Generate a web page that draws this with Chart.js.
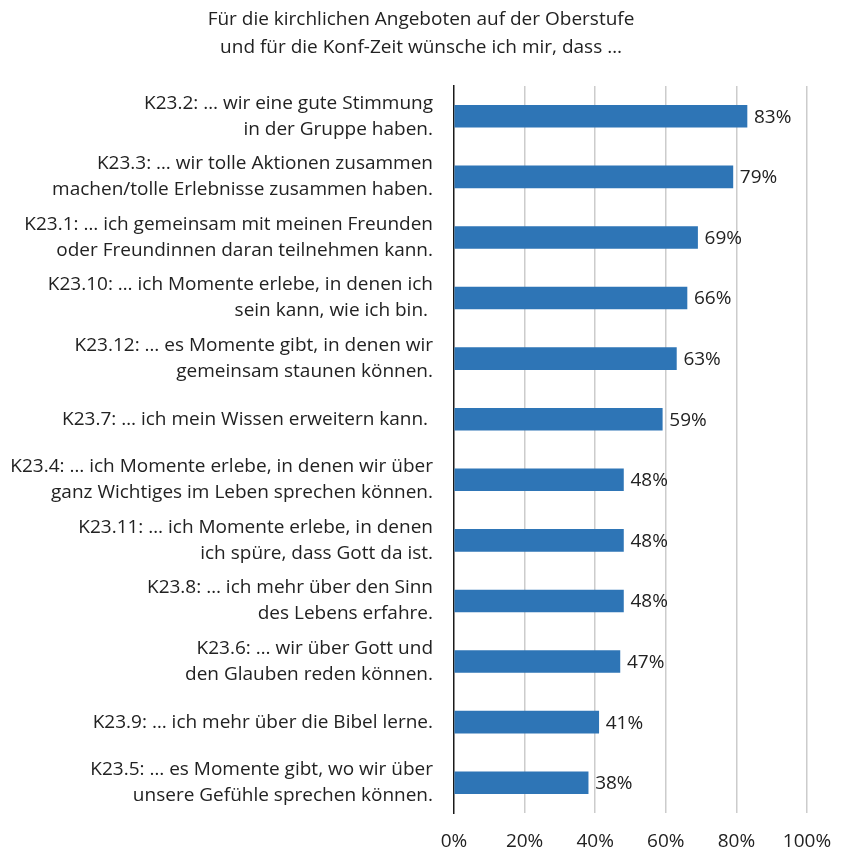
<!DOCTYPE html>
<html lang="de">
<head>
<meta charset="utf-8">
<title>Kirchliche Angebote – Wünsche</title>
<script src="https://cdn.jsdelivr.net/npm/chart.js@4.4.1/dist/chart.umd.min.js"></script>
<style>
  html, body { margin: 0; padding: 0; background: #fff; }
  #wrap { width: 842px; height: 851px; }
</style>
</head>
<body>
<div id="wrap"><canvas id="chart" width="842" height="851"></canvas></div>
<script>
const titleLines = [
  'Für die kirchlichen Angeboten auf der Oberstufe',
  'und für die Konf-Zeit wünsche ich mir, dass …'
];

const categories = [
  ['K23.2: … wir eine gute Stimmung', 'in der Gruppe haben.'],
  ['K23.3: … wir tolle Aktionen zusammen', 'machen/tolle Erlebnisse zusammen haben.'],
  ['K23.1: … ich gemeinsam mit meinen Freunden', 'oder Freundinnen daran teilnehmen kann.'],
  ['K23.10: … ich Momente erlebe, in denen ich', 'sein kann, wie ich bin. '],
  ['K23.12: … es Momente gibt, in denen wir', 'gemeinsam staunen können.'],
  'K23.7: … ich mein Wissen erweitern kann. ',
  ['K23.4: … ich Momente erlebe, in denen wir über', 'ganz Wichtiges im Leben sprechen können.'],
  ['K23.11: … ich Momente erlebe, in denen', 'ich spüre, dass Gott da ist.'],
  ['K23.8: … ich mehr über den Sinn', 'des Lebens erfahre.'],
  ['K23.6: … wir über Gott und', 'den Glauben reden können.'],
  'K23.9: … ich mehr über die Bibel lerne.',
  ['K23.5: … es Momente gibt, wo wir über', 'unsere Gefühle sprechen können.']
];

const values = [83, 79, 69, 66, 63, 59, 48, 48, 48, 47, 41, 38];

const xTicks = [0, 20, 40, 60, 80, 100];

const FONT = '"Open Sans", "Noto Sans", sans-serif';
const TEXT = '#222222';

// value labels at the end of each bar
const barLabels = {
  id: 'barLabels',
  afterDatasetsDraw(chart) {
    const ctx = chart.ctx;
    const meta = chart.getDatasetMeta(0);
    ctx.save();
    ctx.font = '19px ' + FONT;
    ctx.fillStyle = TEXT;
    ctx.textAlign = 'left';
    ctx.textBaseline = 'middle';
    meta.data.forEach((bar, i) => {
      ctx.fillText(values[i] + '%', bar.x + 7, bar.y + 1);
    });
    ctx.restore();
  }
};

new Chart(document.getElementById('chart'), {
  type: 'bar',
  data: {
    labels: categories,
    datasets: [{
      data: values,
      backgroundColor: '#2E75B6',
      barThickness: 22
    }]
  },
  options: {
    indexAxis: 'y',
    responsive: false,
    animation: false,
    layout: { padding: 0 },
    plugins: {
      legend: { display: false },
      tooltip: { enabled: false },
      title: {
        display: true,
        text: titleLines,
        color: TEXT,
        font: { family: FONT, size: 19, weight: 'normal', lineHeight: '28px' },
        padding: { top: 6, bottom: 24 }
      }
    },
    scales: {
      x: {
        min: 0,
        max: 100,
        afterBuildTicks: axis => { axis.ticks = xTicks.map(v => ({ value: v })); },
        afterFit: axis => {
          // fixed room below and right of the plot
          axis.height = 38;
          axis.paddingLeft = 0;
          axis.paddingRight = 35;
        },
        ticks: {
          color: TEXT,
          padding: 17,
          font: { family: FONT, size: 19 },
          callback: v => v + '%'
        },
        grid: {
          color: ctx => ctx.tick && ctx.tick.value === 0 ? 'rgba(0,0,0,0)' : '#cccccc',
          lineWidth: 1.5,
          drawTicks: false
        },
        border: { display: false }
      },
      y: {
        afterFit: axis => {
          axis.width = 454;
          axis.paddingTop = 0;
          axis.paddingBottom = 0;
        },
        ticks: {
          color: TEXT,
          padding: 21,
          font: { family: FONT, size: 19, lineHeight: '26px' }
        },
        grid: { display: false, drawTicks: false },
        border: { display: true, color: '#1a1a1a', width: 1.5 }
      }
    }
  },
  plugins: [barLabels]
});
</script>
</body>
</html>
